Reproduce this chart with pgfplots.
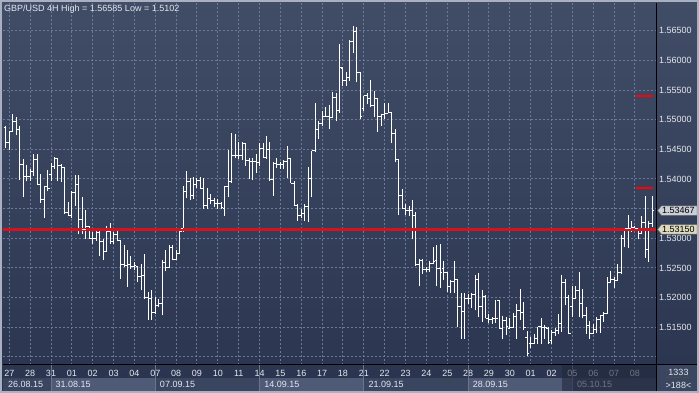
\documentclass[border=0pt]{standalone}
\usepackage{pgfplots}
\pgfplotsset{compat=1.18}
\usepackage{pgfplotstable}
\usepackage{fontspec}
\setmainfont{Liberation Sans}

\definecolor{bgtop}{RGB}{65,77,103}
\definecolor{bgbot}{RGB}{42,52,78}
\definecolor{gridc}{RGB}{108,122,154}
\definecolor{txt}{RGB}{228,231,238}
\definecolor{redl}{RGB}{214,18,28}
\definecolor{boxdark}{RGB}{58,69,96}
\definecolor{boxlight}{RGB}{78,90,118}
\definecolor{sepc}{RGB}{104,116,144}
\definecolor{framec}{RGB}{168,176,194}
\definecolor{dimc}{RGB}{33,40,60}
\definecolor{bidbox}{RGB}{202,206,214}
\definecolor{linebox}{RGB}{220,217,190}

\pgfdeclareplotmark{ohlcopen}{\pgfpathmoveto{\pgfpoint{-2bp}{0pt}}\pgfpathlineto{\pgfpoint{0pt}{0pt}}\pgfusepathqstroke}
\pgfdeclareplotmark{ohlcclose}{\pgfpathmoveto{\pgfpoint{0pt}{0pt}}\pgfpathlineto{\pgfpoint{2bp}{0pt}}\pgfusepathqstroke}

\pgfplotstableread{
i o h l c
-1 1.5486 1.5490 1.5452 1.5461
0 1.5461 1.5480 1.5449 1.5480
1 1.5480 1.5509 1.5480 1.5497
2 1.5497 1.5505 1.5475 1.5483
3 1.5483 1.5490 1.5399 1.5424
4 1.5424 1.5433 1.5369 1.5405
5 1.5405 1.5424 1.5396 1.5404
6 1.5404 1.5417 1.5397 1.5413
7 1.5413 1.5442 1.5405 1.5433
8 1.5433 1.5442 1.5390 1.5390
9 1.5390 1.5409 1.5360 1.5366
10 1.5366 1.5389 1.5334 1.5387
11 1.5387 1.5415 1.5379 1.5384
12 1.5407 1.5427 1.5397 1.5421
13 1.5421 1.5437 1.5417 1.5434
14 1.5434 1.5435 1.5396 1.5423
15 1.5423 1.5426 1.5395 1.5419
16 1.5419 1.5419 1.5341 1.5344
17 1.5344 1.5361 1.5338 1.5338
18 1.5338 1.5379 1.5335 1.5378
19 1.5378 1.5406 1.5355 1.5390
20 1.5390 1.5407 1.5307 1.5331
21 1.5331 1.5370 1.5308 1.5314
22 1.5314 1.5348 1.5299 1.5320
23 1.5320 1.5321 1.5299 1.5300
24 1.5300 1.5310 1.5290 1.5300
25 1.5300 1.5317 1.5296 1.5310
26 1.5310 1.5316 1.5270 1.5294
27 1.5294 1.5299 1.5263 1.5277
28 1.5277 1.5321 1.5277 1.5311
29 1.5311 1.5326 1.5291 1.5294
30 1.5294 1.5311 1.5291 1.5307
31 1.5307 1.5312 1.5295 1.5297
32 1.5297 1.5297 1.5232 1.5256
33 1.5256 1.5288 1.5252 1.5254
34 1.5254 1.5281 1.5218 1.5256
35 1.5256 1.5270 1.5249 1.5253
36 1.5253 1.5260 1.5247 1.5254
37 1.5252 1.5254 1.5226 1.5235
38 1.5235 1.5256 1.5212 1.5238
39 1.5238 1.5273 1.5198 1.5200
40 1.5200 1.5209 1.5163 1.5198
41 1.5198 1.5212 1.5162 1.5175
42 1.5175 1.5201 1.5173 1.5187
43 1.5187 1.5197 1.5185 1.5190
44 1.5190 1.5263 1.5170 1.5260
45 1.5260 1.5280 1.5245 1.5250
46 1.5250 1.5288 1.5250 1.5285
47 1.5285 1.5288 1.5264 1.5264
48 1.5264 1.5281 1.5264 1.5275
49 1.5275 1.5313 1.5275 1.5311
50 1.5316 1.5389 1.5311 1.5379
51 1.5379 1.5413 1.5368 1.5396
52 1.5396 1.5401 1.5365 1.5372
53 1.5372 1.5403 1.5367 1.5391
54 1.5391 1.5402 1.5384 1.5398
55 1.5398 1.5404 1.5384 1.5384
56 1.5384 1.5401 1.5350 1.5356
57 1.5356 1.5384 1.5350 1.5367
58 1.5367 1.5374 1.5358 1.5364
59 1.5364 1.5368 1.5353 1.5358
60 1.5358 1.5366 1.5349 1.5359
61 1.5359 1.5361 1.5349 1.5352
62 1.5350 1.5389 1.5337 1.5388
63 1.5388 1.5449 1.5369 1.5395
64 1.5395 1.5477 1.5394 1.5439
65 1.5439 1.5476 1.5436 1.5440
66 1.5440 1.5462 1.5434 1.5439
67 1.5440 1.5462 1.5432 1.5459
68 1.5459 1.5461 1.5422 1.5431
69 1.5431 1.5436 1.5400 1.5430
70 1.5430 1.5435 1.5399 1.5430
71 1.5430 1.5442 1.5410 1.5428
72 1.5428 1.5460 1.5422 1.5452
73 1.5452 1.5460 1.5435 1.5436
74 1.5436 1.5472 1.5434 1.5449
75 1.5449 1.5463 1.5397 1.5399
76 1.5399 1.5429 1.5371 1.5426
77 1.5426 1.5435 1.5418 1.5425
78 1.5425 1.5428 1.5417 1.5424
79 1.5424 1.5432 1.5416 1.5429
80 1.5429 1.5456 1.5401 1.5435
81 1.5435 1.5436 1.5393 1.5393
82 1.5393 1.5397 1.5355 1.5355
83 1.5355 1.5358 1.5330 1.5339
84 1.5339 1.5349 1.5334 1.5341
85 1.5341 1.5358 1.5330 1.5354
86 1.5354 1.5420 1.5328 1.5400
87 1.5400 1.5448 1.5369 1.5448
88 1.5448 1.5528 1.5446 1.5483
89 1.5483 1.5498 1.5467 1.5493
90 1.5493 1.5515 1.5490 1.5506
91 1.5506 1.5521 1.5504 1.5506
92 1.5506 1.5525 1.5484 1.5504
93 1.5504 1.5547 1.5504 1.5538
94 1.5538 1.5545 1.5497 1.5516
95 1.5516 1.5628 1.5512 1.5588
96 1.5586 1.5588 1.5556 1.5566
97 1.5566 1.5580 1.5556 1.5571
98 1.5571 1.5635 1.5566 1.5631
99 1.5631 1.56585 1.5613 1.5648
100 1.5648 1.5656 1.5563 1.5580
101 1.5580 1.5580 1.5501 1.5506
102 1.5518 1.5540 1.5515 1.5540
103 1.5540 1.5545 1.5526 1.5535
104 1.5535 1.5567 1.5522 1.5524
105 1.5524 1.5549 1.5504 1.5536
106 1.5536 1.5536 1.5479 1.5506
107 1.5506 1.5510 1.5490 1.5508
108 1.5508 1.5528 1.5501 1.5511
109 1.5511 1.5528 1.5511 1.5512
110 1.5512 1.5513 1.5461 1.5477
111 1.5477 1.5485 1.5428 1.5433
112 1.5433 1.5434 1.5339 1.5372
113 1.5372 1.5383 1.5349 1.5350
114 1.5350 1.5358 1.5339 1.5347
115 1.5347 1.5355 1.5338 1.5347
116 1.5347 1.5365 1.5298 1.5339
117 1.5339 1.5344 1.5254 1.5255
118 1.5255 1.5265 1.5219 1.5262
119 1.5262 1.5265 1.5240 1.5247
120 1.5247 1.5251 1.5243 1.5247
121 1.5247 1.5261 1.5244 1.5258
122 1.5258 1.5286 1.5257 1.5261
123 1.5262 1.5289 1.5219 1.5249
124 1.5249 1.5290 1.5217 1.5242
125 1.5249 1.5261 1.5229 1.5242
126 1.5242 1.5244 1.5210 1.5219
127 1.5219 1.5230 1.5208 1.5227
128 1.5227 1.5262 1.5208 1.5230
129 1.5230 1.5231 1.5151 1.5185
130 1.5185 1.5208 1.5131 1.5177
131 1.5177 1.5207 1.5131 1.5199
132 1.5199 1.5206 1.5189 1.5199
133 1.5199 1.5207 1.5182 1.5206
134 1.5206 1.5238 1.5179 1.5231
135 1.5231 1.5242 1.5167 1.5185
136 1.5185 1.5213 1.5159 1.5202
137 1.5202 1.5204 1.5165 1.5165
138 1.5165 1.5172 1.5158 1.5163
139 1.5163 1.5167 1.5156 1.5165
140 1.5165 1.5196 1.5158 1.5165
141 1.5195 1.5196 1.5148 1.5148
142 1.5148 1.5169 1.5130 1.5162
143 1.5162 1.5167 1.5137 1.5151
144 1.5148 1.5165 1.5147 1.5150
145 1.5150 1.5174 1.5148 1.5169
146 1.5169 1.5189 1.5131 1.5179
147 1.5179 1.5214 1.5163 1.5175
148 1.5175 1.5193 1.5145 1.5150
149 1.5133 1.5143 1.5102 1.5106
150 1.5122 1.5133 1.5115 1.5122
151 1.5122 1.5139 1.5122 1.5131
152 1.5131 1.5151 1.5122 1.5151
153 1.5151 1.5165 1.5122 1.5149
154 1.5149 1.5153 1.5131 1.5149
155 1.5148 1.5150 1.5122 1.5124
156 1.5128 1.5145 1.5121 1.5142
157 1.5142 1.5148 1.5136 1.5145
158 1.5145 1.5173 1.5138 1.5156
159 1.5156 1.5238 1.5142 1.5225
160 1.5225 1.5232 1.5187 1.5200
161 1.5200 1.5204 1.5139 1.5139
162 1.5185 1.5219 1.5168 1.5198
163 1.5198 1.5219 1.5198 1.5212
164 1.5212 1.5244 1.5168 1.5190
165 1.5190 1.5215 1.5165 1.5170
166 1.5170 1.5185 1.5139 1.5153
167 1.5153 1.5161 1.5131 1.5140
168 1.5140 1.5156 1.5139 1.5146
169 1.5146 1.5167 1.5140 1.5163
170 1.5163 1.5171 1.5140 1.5170
171 1.5170 1.5176 1.5159 1.5174
172 1.5174 1.5234 1.5173 1.5226
173 1.5226 1.5245 1.5225 1.5230
174 1.5230 1.5235 1.5217 1.5229
175 1.5229 1.5257 1.5228 1.5243
176 1.5243 1.5305 1.5240 1.5299
177 1.5299 1.5318 1.5285 1.5317
178 1.5317 1.5340 1.5283 1.5316
179 1.5316 1.5329 1.5311 1.5318
180 1.5318 1.5320 1.5313 1.5316
181 1.5316 1.5316 1.5298 1.5308
182 1.5308 1.5337 1.5308 1.5326
183 1.5326 1.5372 1.5267 1.5281
184 1.5281 1.5330 1.5260 1.5325
185 1.5325 1.5371 1.5319 1.53467
}\ohlc

\begin{document}
\begin{tikzpicture}
\useasboundingbox (0,0) rectangle (699bp,393bp);
\shade[top color=bgtop, bottom color=bgbot] (0,0) rectangle (699bp,393bp);
\begin{axis}[
  at={(3bp,28bp)}, anchor=south west,
  width=653bp, height=362bp, scale only axis,
  xmin=-1.81, xmax=186.05, ymin=1.50864, ymax=1.56967,
  axis line style={draw=none},
  major tick length=0pt,
  grid=major,
  major grid style={gridc, line width=1bp, dash pattern=on 2bp off 2bp},
  xtick={0,6,...,180},
  xticklabels={27,28,31,01,02,03,04,07,08,09,10,11,14,15,16,17,18,21,22,23,24,25,28,29,30,01,02,05,06,07,08},
  xticklabel style={anchor=base, yshift=-11bp, inner sep=0pt, text=txt, font=\fontsize{9bp}{10bp}\selectfont},
  ytick={1.510,1.515,1.520,1.525,1.530,1.535,1.540,1.545,1.550,1.555,1.560,1.565},
  yticklabels={,1.51500,1.52000,1.52500,1.53000,,1.54000,1.54500,1.55000,1.55500,1.56000,1.56500},
  yticklabel pos=right,
  yticklabel style={anchor=west, inner sep=0pt, xshift=3bp, text=txt, font=\fontsize{9bp}{10bp}\selectfont},
]
\addplot[draw=none, mark=none,
  error bars/.cd, y dir=plus, y explicit, error mark=none,
  error bar style={draw=white, line width=1bp, solid}]
  table[x=i, y=l, y error expr=\thisrow{h}-\thisrow{l}] {\ohlc};
\addplot[only marks, mark=ohlcopen, mark options={draw=white, line width=1bp, solid}]
  table[x=i, y=o] {\ohlc};
\addplot[only marks, mark=ohlcclose, mark options={draw=white, line width=1bp, solid}]
  table[x=i, y=c] {\ohlc};
\addplot[redl, line width=3bp, no markers] coordinates {(-1.81,1.5315) (186.05,1.5315)};
\addplot[red, line width=2bp, no markers] coordinates {(180.3,1.5540) (185.2,1.5540)};
\addplot[red, line width=2bp, no markers] coordinates {(180.3,1.5384) (185.2,1.5384)};
\end{axis}
\begin{scope}[x=1bp, y=1bp]
  % bottom date row boxes
  \fill[boxdark]  (3,2) rectangle (51,15.5);
  \fill[boxlight] (51,2) rectangle (155.3,15.5);
  \fill[boxdark]  (155.3,2) rectangle (259.6,15.5);
  \fill[boxlight] (259.6,2) rectangle (363.9,15.5);
  \fill[boxdark]  (363.9,2) rectangle (468.1,15.5);
  \fill[boxlight] (468.1,2) rectangle (572.4,15.5);
  \fill[boxdark]  (572.4,2) rectangle (656,15.5);
  \fill[boxdark]  (656,2) rectangle (699,28);
  \foreach \xx in {51,155.3,259.6,363.9,468.1,572.4}
    \draw[sepc, line width=1bp] (\xx,2) -- (\xx,28);
  \begin{scope}[every node/.style={anchor=base west, inner sep=0pt, text=txt, font=\fontsize{9bp}{10bp}\selectfont}]
    \node at (8,6) {26.08.15};
    \node at (55.5,6) {31.08.15};
    \node at (159.8,6) {07.09.15};
    \node at (264.1,6) {14.09.15};
    \node at (368.4,6) {21.09.15};
    \node at (472.6,6) {28.09.15};
    \node at (576.9,6) {05.10.15};
  \end{scope}
  % dimmed (scroll) region
  \fill[dimc, opacity=0.6] (561.7,2) rectangle (656,28);
  % right bottom panel
  \node[anchor=base, inner sep=0pt, text=txt, font=\fontsize{9bp}{10bp}\selectfont] at (678.5,18) {1333};
  \draw[black!70, line width=1bp] (666,15.3) -- (690,15.3);
  \node[anchor=base, inner sep=0pt, text=txt, font=\fontsize{9bp}{10bp}\selectfont] at (678.5,5) {>188<};
  % axis borders
  \draw[black, line width=1bp] (3,28) -- (699,28);
  \draw[black, line width=1bp] (656,2) -- (656,390);
  % price tags
  \filldraw[fill=bidbox, draw=black!60, line width=0.5bp] (657.5,182.4) -- (661.5,187.2) -- (697,187.2) -- (697,177.6) -- (661.5,177.6) -- cycle;
  \node[anchor=base west, inner sep=0pt, text=black, font=\fontsize{9bp}{10bp}\selectfont] at (662,179.2) {1.53467};
  \filldraw[fill=linebox, draw=black!60, line width=0.5bp] (657.5,163.6) -- (661.5,168.4) -- (697,168.4) -- (697,158.8) -- (661.5,158.8) -- cycle;
  \node[anchor=base west, inner sep=0pt, text=black, font=\fontsize{9bp}{10bp}\selectfont] at (662,160.4) {1.53150};
  % title
  \node[anchor=base west, inner sep=0pt, text=txt, font=\fontsize{9bp}{10bp}\selectfont] at (4,381.8) {GBP/USD 4H High = 1.56585 Low = 1.5102};
  % outer frame
  \draw[framec, line width=2bp] (1,1) rectangle (698,392);
\end{scope}
\end{tikzpicture}
\end{document}
